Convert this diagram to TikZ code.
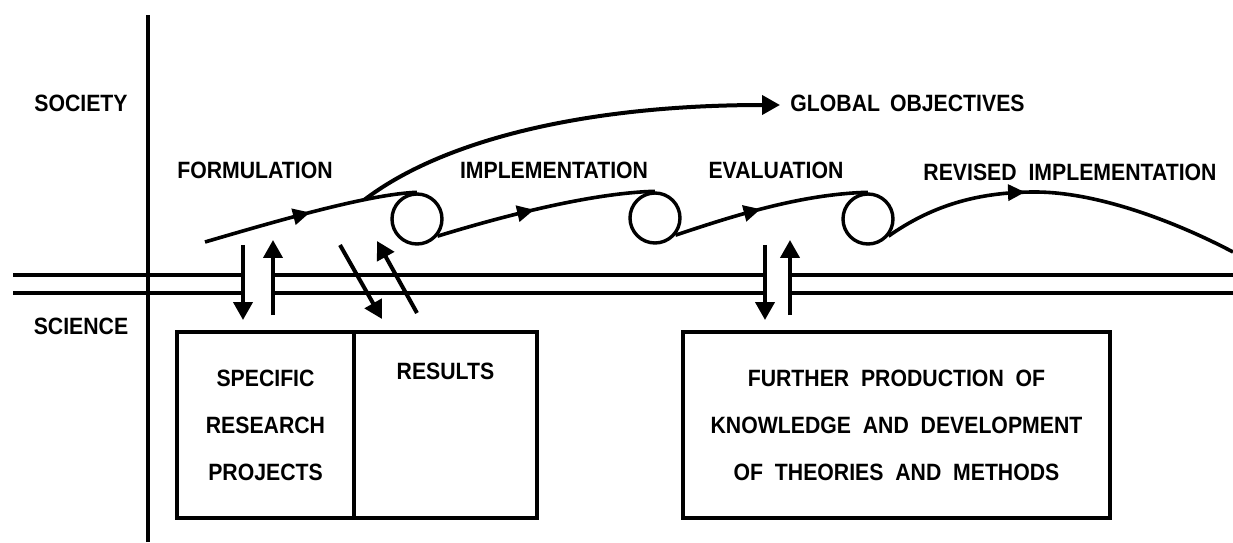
\documentclass[tikz,border=0pt]{standalone}
\usepackage{fontspec}
\setmainfont{Liberation Sans}[FakeStretch=0.9]
\usetikzlibrary{arrows.meta, positioning, decorations.markings}
\tikzset{
  lbl/.style={font=\bfseries\fontsize{11.8}{11.8}\selectfont, inner sep=0pt},
  cell/.style={draw, line width=1.8pt, minimum height=93pt, inner sep=0pt,
    align=center, font=\bfseries\fontsize{11.8}{23.5}\selectfont},
  curl/.style={draw, circle, line width=1.7pt, minimum size=25pt, inner sep=0pt},
  flow/.style={line width=1.8pt, postaction={decorate},
    decoration={markings, mark=at position #1 with
      {\arrow{Triangle[length=8.5pt,width=8pt]}}}},
  flow/.default=0.5,
  arrow/.style={-{Triangle[length=9pt,width=9.5pt]}, line width=2pt},
  rail/.style={line width=2.1pt},
}

\begin{document}
\begin{tikzpicture}[x=0.5pt, y=0.5pt]
  \useasboundingbox (0,0) rectangle (1233,542);

  % Axis and the science/society border
  \draw[rail] (148,0) -- (148,527);
  \foreach \y in {249,267} {
    \draw[rail] (13,\y) -- (243,\y);
    \draw[rail] (273,\y) -- (765,\y);
    \draw[rail] (790,\y) -- (1233,\y);
  }

  % Side labels
  \node[lbl] (society) at (81,439) {SOCIETY};
  \node[lbl] (science) at (81,216) {SCIENCE};

  % Phase labels
  \node[lbl] (formul) at (255,372) {FORMULATION};
  \node[lbl] (impl)   at (554,372) {IMPLEMENTATION};
  \node[lbl] (eval)   at (776,372) {EVALUATION};
  \node[lbl] (revis)  at (1070,370) {REVISED\ \ IMPLEMENTATION};
  \node[lbl, anchor=west] (global) at (790,439) {GLOBAL\hspace{5pt}OBJECTIVES};

  % Loops
  \node[curl] (c1) at (417,323) {};
  \node[curl] (c2) at (655,324) {};
  \node[curl] (c3) at (868,323) {};

  % Process curve
  \coordinate (f0) at (205,300);
  \coordinate (rend) at (1233,290);
  \draw[flow=0.5] (f0) .. controls (280,322) and (370,348) .. (c1.north)
    coordinate[pos=0.7] (fork);
  \draw[flow=0.45] (c1.-40) .. controls (500,325) and (590,349) .. (c2.north);
  \draw[flow=0.45] (c2.-40) .. controls (730,325) and (800,348) .. (c3.north);
  \draw[flow=0.4] (c3.-40) .. controls (930,335) and (975,350) .. (1035,350)
    .. controls (1100,350) and (1180,318) .. (rend);
  \coordinate (gtip) at (780,437);
  \draw[arrow] (fork) .. controls (440,400) and (580,437) .. (gtip);

  % Boxes
  \node[cell, minimum width=88.5pt] (projects) at (265.5,117)
    {SPECIFIC\\RESEARCH\\PROJECTS};
  \node[cell, minimum width=91.5pt] (results) at (445.5,117) {};
  \node[lbl, below=16pt of results.north] (restext) {RESULTS};
  \node[cell, minimum width=213.5pt] (further) at (896.5,117)
    {FURTHER\ \ PRODUCTION\ \ OF\\KNOWLEDGE\ \ AND\ \ DEVELOPMENT\\OF\ \ THEORIES\ \ AND\ \ METHODS};

  % Exchange arrows
  \coordinate (fd1) at (243,297);  \coordinate (fd2) at (243,222);
  \coordinate (fu1) at (273,227);  \coordinate (fu2) at (273,302);
  \coordinate (sd1) at (340,297);  \coordinate (sd2) at (382,223);
  \coordinate (su1) at (417,229);  \coordinate (su2) at (377,301);
  \coordinate (ed1) at (765,297);  \coordinate (ed2) at (765,222);
  \coordinate (eu1) at (790,227);  \coordinate (eu2) at (790,302);
  \draw[arrow] (fd1) -- (fd2);
  \draw[arrow] (fu1) -- (fu2);
  \draw[arrow] (sd1) -- (sd2);
  \draw[arrow] (su1) -- (su2);
  \draw[arrow] (ed1) -- (ed2);
  \draw[arrow] (eu1) -- (eu2);

\end{tikzpicture}
\end{document}
